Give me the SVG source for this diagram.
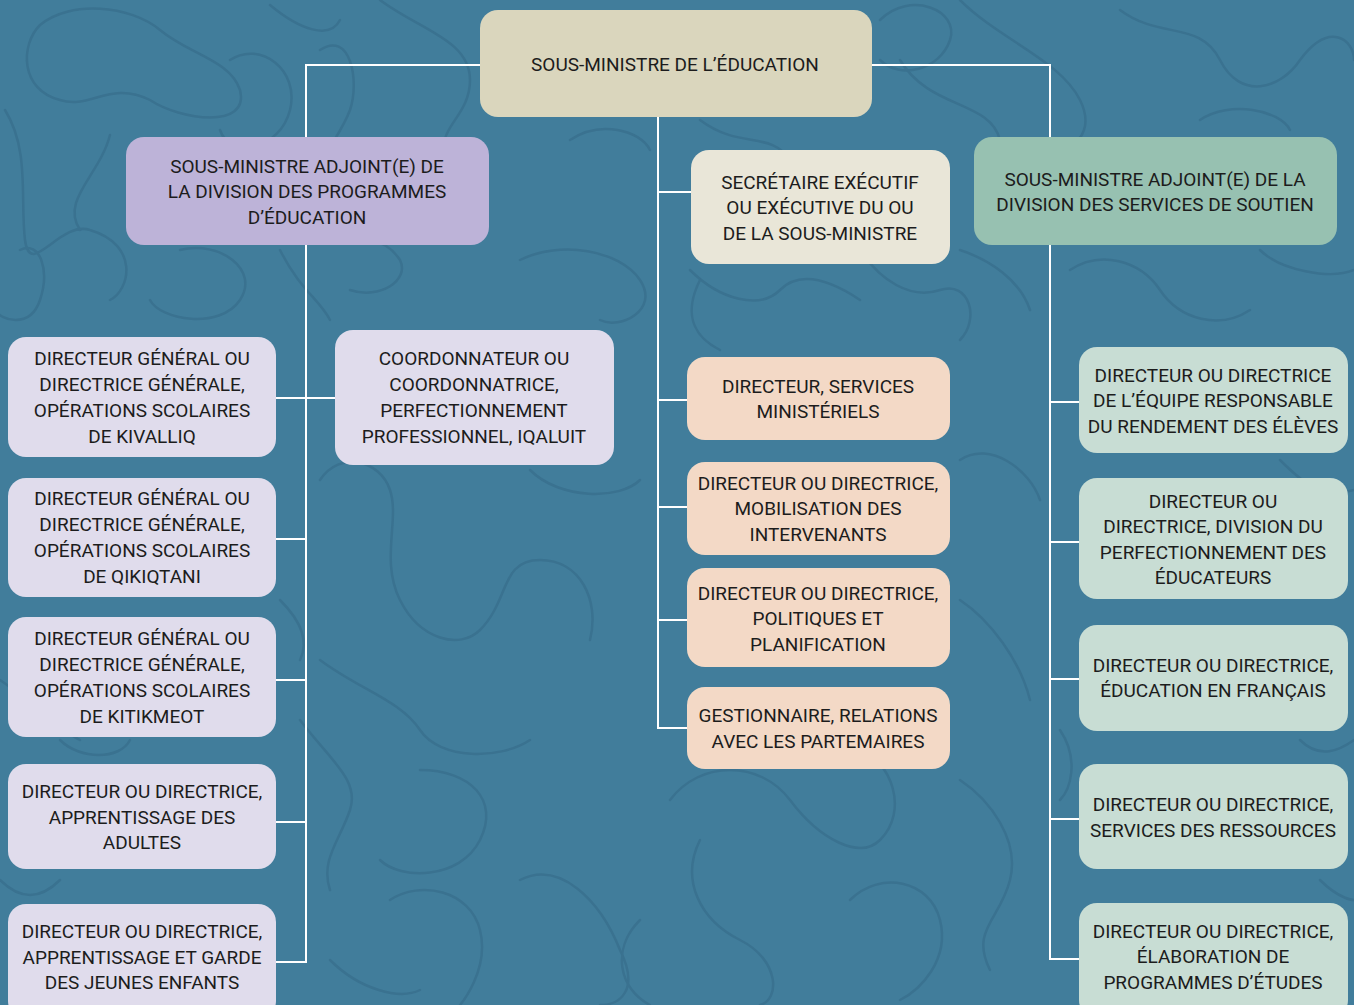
<svg xmlns="http://www.w3.org/2000/svg" width="1354" height="1005" viewBox="0 0 1354 1005">
<style>
.bg{fill:#417D9B}
.sq{fill:none;stroke:#3A7290;stroke-width:2.5;stroke-linecap:round}
.ln{fill:none;stroke:#FFFFFF;stroke-width:2}
.t{font-family:Roboto,"Liberation Sans",sans-serif;font-size:19px;fill:#1C1C1C;text-anchor:middle}
.top{fill:#DAD6BD}
.dm{fill:#BDB3D8}
.sec{fill:#E9E6D8}
.ds{fill:#97C1B1}
.lav{fill:#E0DCEC}
.org{fill:#F3D9C6}
.grn{fill:#C8DDD4}
</style>
<rect class="bg" x="0" y="0" width="1354" height="1005"/>
<g id="background-pattern">
<path class="sq" d="M40,25 C70,0 130,5 160,30 C190,55 230,60 240,90 C250,130 180,120 150,100 C110,80 90,110 60,100 C20,90 20,45 40,25 Z"/>
<path class="sq" d="M5,110 C30,150 20,200 25,240 C30,280 60,220 90,230 C140,245 130,290 110,300"/>
<path class="sq" d="M230,60 C260,40 300,70 290,110 C280,150 230,160 220,130"/>
<path class="sq" d="M270,5 C300,30 330,40 340,20"/>
<path class="sq" d="M320,50 C350,30 360,80 350,110 C335,150 300,170 330,210 C360,250 380,230 400,260 C410,280 380,300 350,290"/>
<path class="sq" d="M380,0 C420,30 470,40 470,80 C470,120 430,130 450,160"/>
<path class="sq" d="M110,135 C100,175 60,200 80,230"/>
<path class="sq" d="M20,250 C40,240 50,270 40,300 C30,330 0,320 -5,310"/>
<path class="sq" d="M180,250 C220,240 260,270 240,300 C220,330 160,320 150,300"/>
<path class="sq" d="M280,250 C300,290 320,300 330,320"/>
<path class="sq" d="M880,20 C910,-10 960,10 950,40 C940,70 900,80 880,60"/>
<path class="sq" d="M960,0 C1000,40 1060,60 1080,100 C1100,140 1060,160 1040,140"/>
<path class="sq" d="M1120,10 C1160,40 1200,20 1220,60 C1240,100 1280,90 1300,60 C1330,20 1354,40 1354,60"/>
<path class="sq" d="M1200,120 C1230,100 1280,110 1290,130"/>
<path class="sq" d="M1260,250 C1280,270 1330,280 1354,270"/>
<path class="sq" d="M900,60 C930,110 990,100 1000,140"/>
<path class="sq" d="M700,120 C740,150 770,130 790,160"/>
<path class="sq" d="M570,140 C600,120 640,130 650,150"/>
<path class="sq" d="M520,260 C560,240 620,250 640,280 C660,310 620,330 600,320"/>
<path class="sq" d="M690,270 C720,300 760,310 780,290 C800,270 830,280 860,300"/>
<path class="sq" d="M860,250 C880,280 910,300 940,290 C970,280 980,320 960,340"/>
<path class="sq" d="M960,250 C990,260 1020,280 1030,310"/>
<path class="sq" d="M1070,270 C1100,250 1140,260 1160,290 C1180,320 1220,330 1250,310"/>
<path class="sq" d="M320,480 C340,450 380,460 390,490 C400,520 380,560 400,600 C420,640 460,650 480,630 C510,600 500,560 540,560 C580,560 600,600 590,640"/>
<path class="sq" d="M530,470 C560,500 620,500 640,480"/>
<path class="sq" d="M320,660 C360,690 400,700 420,730 C440,760 500,760 530,740"/>
<path class="sq" d="M300,720 C330,760 360,780 350,810 C340,840 320,860 330,890"/>
<path class="sq" d="M420,770 C470,770 500,800 480,840 C460,880 400,880 380,860"/>
<path class="sq" d="M390,900 C420,880 470,890 480,930 C490,970 460,1005 460,1005"/>
<path class="sq" d="M520,880 C560,860 600,900 620,950 C640,990 620,1005 600,1005"/>
<path class="sq" d="M330,960 C360,990 400,1000 420,990"/>
<path class="sq" d="M670,800 C700,760 760,760 790,800 C820,840 860,860 880,840 C910,810 890,760 860,750"/>
<path class="sq" d="M700,840 C680,880 700,920 740,940 C780,960 780,1000 760,1005"/>
<path class="sq" d="M640,920 C610,950 620,990 650,1005"/>
<path class="sq" d="M850,900 C880,870 930,880 940,920 C950,960 920,990 900,1000"/>
<path class="sq" d="M960,780 C990,800 1020,840 1010,880 C1000,920 970,930 990,970"/>
<path class="sq" d="M960,600 C990,620 1020,660 1030,700"/>
<path class="sq" d="M960,460 C990,440 1030,470 1040,500"/>
<path class="sq" d="M700,280 C680,320 700,340 720,350"/>
<path class="sq" d="M280,600 C300,620 310,640 300,660"/>
<path class="sq" d="M0,680 C30,700 60,730 80,740"/>
<path class="sq" d="M60,740 C80,760 120,760 130,740"/>
<path class="sq" d="M0,880 C20,900 40,900 60,880"/>
<path class="sq" d="M1280,460 C1300,480 1320,500 1354,490"/>
<path class="sq" d="M1300,740 C1320,760 1340,750 1354,740"/>
<path class="sq" d="M1320,880 C1340,900 1354,900 1354,900"/>
<path class="sq" d="M1060,730 C1080,760 1070,790 1060,800"/>
</g>
<g id="connectors">
<path class="ln" d="M480,65 H306 V137"/>
<path class="ln" d="M872,65 H1050 V137"/>
<path class="ln" d="M658,117 V728 H687"/>
<path class="ln" d="M658,192 H691"/>
<path class="ln" d="M658,400 H687"/>
<path class="ln" d="M658,507 H687"/>
<path class="ln" d="M658,620 H687"/>
<path class="ln" d="M306,245 V962 H276"/>
<path class="ln" d="M276,398 H335"/>
<path class="ln" d="M276,539 H306"/>
<path class="ln" d="M276,680 H306"/>
<path class="ln" d="M276,822 H306"/>
<path class="ln" d="M1050,245 V959 H1079"/>
<path class="ln" d="M1050,402 H1079"/>
<path class="ln" d="M1050,542 H1079"/>
<path class="ln" d="M1050,679 H1079"/>
<path class="ln" d="M1050,819 H1079"/>
</g>
<g id="n-sous-ministre">
<rect class="top" x="480" y="10" width="392" height="107" rx="18"/>
<text class="t" x="675" y="71">SOUS-MINISTRE DE L’ÉDUCATION</text>
</g>
<g id="n-sma-programmes">
<rect class="dm" x="126" y="137" width="363" height="108" rx="18"/>
<text class="t" x="307" y="173">SOUS-MINISTRE ADJOINT(E) DE</text>
<text class="t" x="307" y="198">LA DIVISION DES PROGRAMMES</text>
<text class="t" x="307" y="224">D’ÉDUCATION</text>
</g>
<g id="n-secretaire">
<rect class="sec" x="691" y="150" width="259" height="114" rx="18"/>
<text class="t" x="820" y="189">SECRÉTAIRE EXÉCUTIF</text>
<text class="t" x="820" y="214">OU EXÉCUTIVE DU OU</text>
<text class="t" x="820" y="240">DE LA SOUS-MINISTRE</text>
</g>
<g id="n-sma-soutien">
<rect class="ds" x="974" y="137" width="363" height="108" rx="18"/>
<text class="t" x="1155" y="186">SOUS-MINISTRE ADJOINT(E) DE LA</text>
<text class="t" x="1155" y="211">DIVISION DES SERVICES DE SOUTIEN</text>
</g>
<g id="n-kivalliq">
<rect class="lav" x="8" y="337" width="268" height="120" rx="18"/>
<text class="t" x="142" y="365">DIRECTEUR GÉNÉRAL OU</text>
<text class="t" x="142" y="391">DIRECTRICE GÉNÉRALE,</text>
<text class="t" x="142" y="417">OPÉRATIONS SCOLAIRES</text>
<text class="t" x="142" y="443">DE KIVALLIQ</text>
</g>
<g id="n-qikiqtani">
<rect class="lav" x="8" y="478" width="268" height="119" rx="18"/>
<text class="t" x="142" y="505">DIRECTEUR GÉNÉRAL OU</text>
<text class="t" x="142" y="531">DIRECTRICE GÉNÉRALE,</text>
<text class="t" x="142" y="557">OPÉRATIONS SCOLAIRES</text>
<text class="t" x="142" y="583">DE QIKIQTANI</text>
</g>
<g id="n-kitikmeot">
<rect class="lav" x="8" y="617" width="268" height="120" rx="18"/>
<text class="t" x="142" y="645">DIRECTEUR GÉNÉRAL OU</text>
<text class="t" x="142" y="671">DIRECTRICE GÉNÉRALE,</text>
<text class="t" x="142" y="697">OPÉRATIONS SCOLAIRES</text>
<text class="t" x="142" y="723">DE KITIKMEOT</text>
</g>
<g id="n-adultes">
<rect class="lav" x="8" y="764" width="268" height="105" rx="18"/>
<text class="t" x="142" y="798">DIRECTEUR OU DIRECTRICE,</text>
<text class="t" x="142" y="824">APPRENTISSAGE DES</text>
<text class="t" x="142" y="849">ADULTES</text>
</g>
<g id="n-jeunes-enfants">
<rect class="lav" x="8" y="904" width="268" height="115" rx="18"/>
<text class="t" x="142" y="938">DIRECTEUR OU DIRECTRICE,</text>
<text class="t" x="142" y="964">APPRENTISSAGE ET GARDE</text>
<text class="t" x="142" y="989">DES JEUNES ENFANTS</text>
</g>
<g id="n-coordonnateur">
<rect class="lav" x="335" y="330" width="279" height="135" rx="18"/>
<text class="t" x="474" y="365">COORDONNATEUR OU</text>
<text class="t" x="474" y="391">COORDONNATRICE,</text>
<text class="t" x="474" y="417">PERFECTIONNEMENT</text>
<text class="t" x="474" y="443">PROFESSIONNEL, IQALUIT</text>
</g>
<g id="n-services-ministeriels">
<rect class="org" x="687" y="357" width="263" height="83" rx="18"/>
<text class="t" x="818" y="393">DIRECTEUR, SERVICES</text>
<text class="t" x="818" y="418">MINISTÉRIELS</text>
</g>
<g id="n-mobilisation">
<rect class="org" x="687" y="462" width="263" height="93" rx="18"/>
<text class="t" x="818" y="490">DIRECTEUR OU DIRECTRICE,</text>
<text class="t" x="818" y="515">MOBILISATION DES</text>
<text class="t" x="818" y="541">INTERVENANTS</text>
</g>
<g id="n-politiques">
<rect class="org" x="687" y="568" width="263" height="99" rx="18"/>
<text class="t" x="818" y="600">DIRECTEUR OU DIRECTRICE,</text>
<text class="t" x="818" y="625">POLITIQUES ET</text>
<text class="t" x="818" y="651">PLANIFICATION</text>
</g>
<g id="n-gestionnaire">
<rect class="org" x="687" y="687" width="263" height="82" rx="18"/>
<text class="t" x="818" y="722">GESTIONNAIRE, RELATIONS</text>
<text class="t" x="818" y="748">AVEC LES PARTEMAIRES</text>
</g>
<g id="n-rendement">
<rect class="grn" x="1079" y="347" width="269" height="106" rx="18"/>
<text class="t" x="1213" y="382">DIRECTEUR OU DIRECTRICE</text>
<text class="t" x="1213" y="407">DE L’ÉQUIPE RESPONSABLE</text>
<text class="t" x="1213" y="433">DU RENDEMENT DES ÉLÈVES</text>
</g>
<g id="n-educateurs">
<rect class="grn" x="1079" y="478" width="269" height="121" rx="18"/>
<text class="t" x="1213" y="508">DIRECTEUR OU</text>
<text class="t" x="1213" y="533">DIRECTRICE, DIVISION DU</text>
<text class="t" x="1213" y="559">PERFECTIONNEMENT DES</text>
<text class="t" x="1213" y="584">ÉDUCATEURS</text>
</g>
<g id="n-francais">
<rect class="grn" x="1079" y="625" width="269" height="106" rx="18"/>
<text class="t" x="1213" y="672">DIRECTEUR OU DIRECTRICE,</text>
<text class="t" x="1213" y="697">ÉDUCATION EN FRANÇAIS</text>
</g>
<g id="n-ressources">
<rect class="grn" x="1079" y="764" width="269" height="105" rx="18"/>
<text class="t" x="1213" y="811">DIRECTEUR OU DIRECTRICE,</text>
<text class="t" x="1213" y="837">SERVICES DES RESSOURCES</text>
</g>
<g id="n-programmes-etudes">
<rect class="grn" x="1079" y="903" width="269" height="115" rx="18"/>
<text class="t" x="1213" y="938">DIRECTEUR OU DIRECTRICE,</text>
<text class="t" x="1213" y="963">ÉLABORATION DE</text>
<text class="t" x="1213" y="989">PROGRAMMES D’ÉTUDES</text>
</g>
</svg>
